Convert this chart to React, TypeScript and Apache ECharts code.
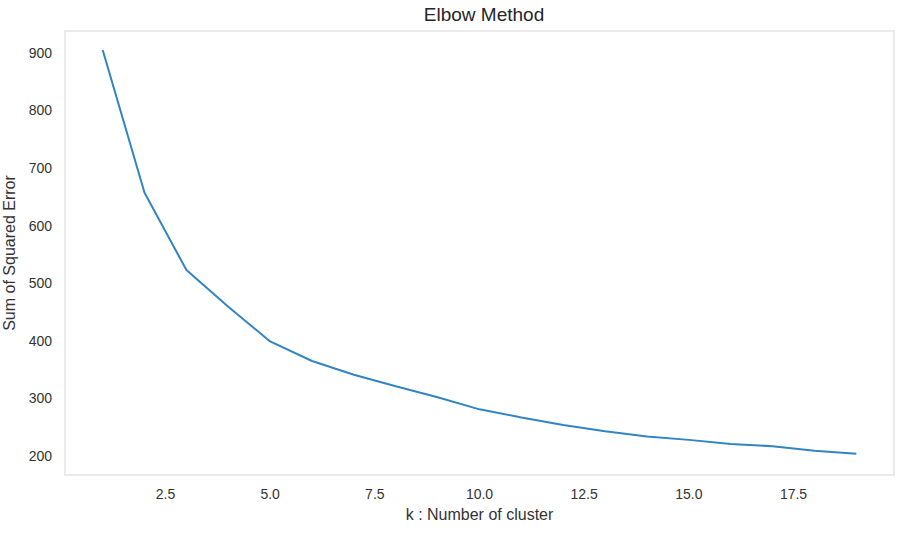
import React, { useEffect, useRef } from "react";
import * as echarts from "echarts";

const kValues = [1, 2, 3, 4, 5, 6, 7, 8, 9, 10, 11, 12, 13, 14, 15, 16, 17, 18, 19];
const sseValues = [905, 657, 523, 459, 399, 365, 341, 321, 302, 281, 267, 254, 243, 234, 228, 221, 217, 209, 204];
const xTickValues = [2.5, 5.0, 7.5, 10.0, 12.5, 15.0, 17.5];
const yTickValues = [200, 300, 400, 500, 600, 700, 800, 900];

const TEXT = "#333333";
const FONT = "Liberation Sans, Arial, sans-serif";

export default function App() {
  const ref = useRef<HTMLDivElement>(null);
  useEffect(() => {
    document.body.style.margin = "0";
    const chart = echarts.init(ref.current!, null, { renderer: "svg" });
    chart.setOption({
      animation: false,
      backgroundColor: "#ffffff",
      title: {
        text: "Elbow Method",
        left: 479,
        textAlign: "center",
        top: 0,
        textStyle: { fontSize: 19, fontWeight: "normal", color: "#262626", fontFamily: FONT },
      },
      grid: {
        left: 65,
        top: 31,
        right: 3,
        bottom: 72,
        show: true,
        borderColor: "#e3e3e3",
        borderWidth: 1.5,
        containLabel: false,
        outerBoundsMode: "none",
      },
      xAxis: {
        type: "value",
        min: 0.1,
        max: 19.9,
        name: "k : Number of cluster",
        nameLocation: "middle",
        nameGap: 31,
        nameTextStyle: { fontSize: 16, color: TEXT, fontFamily: FONT },
        axisLine: { show: false },
        axisTick: { show: false },
        splitLine: { show: false },
        axisLabel: {
          customValues: xTickValues,
          formatter: (v: number) => v.toFixed(1),
          fontSize: 14,
          color: TEXT,
          fontFamily: FONT,
          margin: 12,
        },
      },
      yAxis: {
        type: "value",
        min: 167,
        max: 938,
        name: "Sum of Squared Error",
        nameLocation: "middle",
        nameGap: 47,
        nameTextStyle: { fontSize: 16, color: TEXT, fontFamily: FONT },
        axisLine: { show: false },
        axisTick: { show: false },
        splitLine: { show: false },
        axisLabel: {
          customValues: yTickValues,
          formatter: (v: number) => String(v),
          fontSize: 14,
          color: TEXT,
          fontFamily: FONT,
          margin: 13,
        },
      },
      series: [
        {
          type: "line",
          data: kValues.map((k, i) => [k, sseValues[i]]),
          showSymbol: false,
          lineStyle: { color: "#3284c2", width: 2 },
          itemStyle: { color: "#3284c2" },
        },
      ],
    });
    return () => chart.dispose();
  }, []);
  return <div ref={ref} style={{ width: 897, height: 547 }} />;
}
